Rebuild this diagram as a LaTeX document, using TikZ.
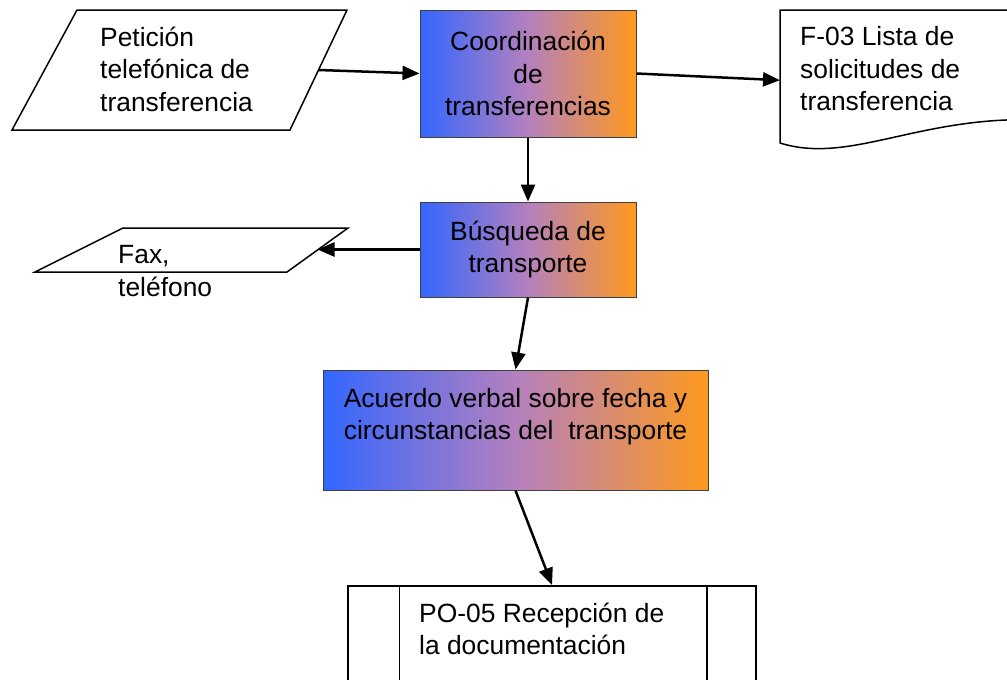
\documentclass[tikz,border=0pt]{standalone}
\usepackage{fontspec}
\setmainfont{Liberation Sans}
\usetikzlibrary{positioning,arrows.meta,shapes.geometric}

\definecolor{procblue}{RGB}{51,102,255}
\definecolor{procmid}{RGB}{180,128,190}
\definecolor{procorange}{RGB}{255,153,30}

\tikzset{
    proc/.style={rectangle, draw=black!75, line width=1pt, left color=procblue, right color=procorange, middle color=procmid, align=center, inner sep=0pt},
    contorno/.style={draw, line width=1.5pt},
    subproc/.style={rectangle, draw, line width=1.5pt, inner sep=0pt},
    txt/.style={align=left, inner sep=0pt},
    flecha/.style={->, line width=2.5pt}
}

\begin{document}
\begin{tikzpicture}[x=1pt, y=-1pt, >={Triangle[length=17pt,width=14pt]}, font=\fontsize{26.4}{32.5}\selectfont]
        \useasboundingbox (0,0) rectangle (1007,680);

        \draw[contorno] (77,10) -- (347,10) -- (290,130) -- (12,130) -- cycle;
        \coordinate (petout) at (318.5,70);
        \node[txt, anchor=west] (pettxt) at (100,69) {Petición\\telefónica de\\transferencia};

        \node[proc, minimum width=216pt, minimum height=127pt] (coord) at (528,73.5) {Coordinación\\de\\transferencias};

        \node[minimum width=260pt, minimum height=140pt, inner sep=0pt, anchor=north west] (lista) at (780,10) {};
        \draw[contorno] (1015,10) -- (780,10) -- (780,143) .. controls (850,165) and (920,115) .. (1040,120);
        \node[txt, anchor=west] (listatxt) at (800,69) {F-03 Lista de\\solicitudes de\\transferencia};

        \node[proc, minimum width=216pt, minimum height=95pt] (busq) at (528,249.5) {Búsqueda de\\transporte};

        \draw[contorno] (123,228) -- (348,228) -- (287,272) -- (35,272) -- cycle;
        \coordinate (faxin) at (317.5,249.5);
        \node[txt, anchor=west] (faxtxt) at (118,271) {Fax,\\teléfono};

        \node[proc, minimum width=385pt, minimum height=120pt] (acuerdo) at (515.5,430) {Acuerdo verbal sobre fecha y\\circunstancias del\ \ transporte\\\mbox{}};

        \node[subproc, minimum width=408pt, minimum height=130pt, anchor=north] (po05) at (552,585) {};
        \draw[line width=1.5pt] ([xshift=52pt]po05.north west) -- ([xshift=52pt]po05.south west);
        \draw[line width=1.5pt] ([xshift=-50pt]po05.north east) -- ([xshift=-50pt]po05.south east);
        \node[txt, anchor=west] (po05txt) at (419,629) {PO-05 Recepción de\\la documentación};

        \path[flecha]
            (petout)edge(coord.west)
            (coord.east)edge(lista.west)
            (coord.south)edge(busq.north)
            (busq.west)edge(faxin)
            (busq.south)edge(acuerdo.north)
            (acuerdo.south)edge(po05.north);
\end{tikzpicture}
\end{document}
